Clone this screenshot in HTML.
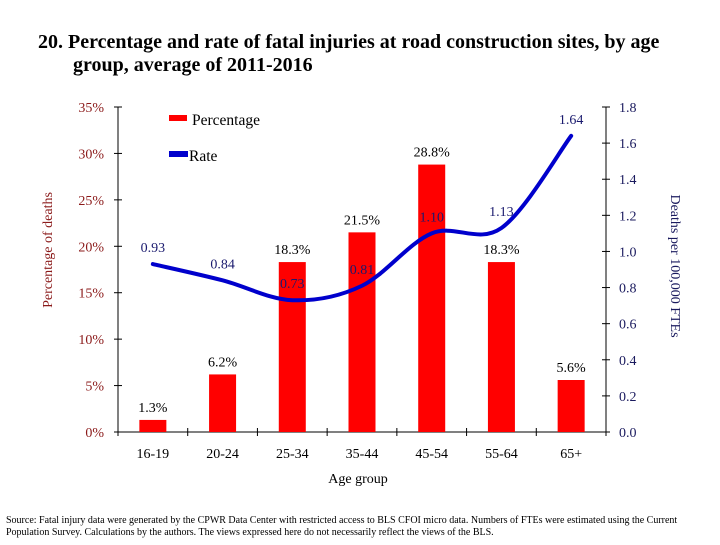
<!DOCTYPE html>
<html><head><meta charset="utf-8"><style>
body{margin:0;background:#fff;}
svg text{font-family:"Liberation Serif",serif;}
</style></head><body>
<svg width="720" height="540" xmlns="http://www.w3.org/2000/svg">
<g id="root"></g>
</svg>
<script>
const categories=["16-19","20-24","25-34","35-44","45-54","55-64","65+"];
const percentValues=[1.3,6.2,18.3,21.5,28.8,18.3,5.6];
const rateValues=[0.93,0.84,0.73,0.81,1.10,1.13,1.64];
const leftTicks=[0,5,10,15,20,25,30,35];
const rightTicks=[0,0.2,0.4,0.6,0.8,1.0,1.2,1.4,1.6,1.8];

const NS="http://www.w3.org/2000/svg";
const root=document.getElementById('root');
const X0=118,X1=606,Y0=432,Y1=107;
const cw=(X1-X0)/categories.length;
const xc=i=>X0+cw*(i+0.5);
const yL=v=>Y0-(v/35)*(Y0-Y1);
const yR=v=>Y0-(v/1.8)*(Y0-Y1);
function el(tag,attrs,text){const e=document.createElementNS(NS,tag);for(const k in attrs)e.setAttribute(k,attrs[k]);if(text!==undefined)e.textContent=text;root.appendChild(e);return e;}

// title
let t=el('text',{x:38,y:48,'font-size':20,'font-weight':'bold',fill:'#000'},'20. Percentage and rate of fatal injuries at road construction sites, by age');

t=el('text',{x:73,y:71,'font-size':20,'font-weight':'bold',fill:'#000'},'group, average of 2011-2016');


// axes
let a=el('line',{x1:X0,y1:Y1,x2:X0,y2:Y0,stroke:'#000','stroke-width':1});

a=el('line',{x1:X1,y1:Y1,x2:X1,y2:Y0,stroke:'#000','stroke-width':1});

a=el('line',{x1:X0,y1:Y0,x2:X1,y2:Y0,stroke:'#000','stroke-width':1});


leftTicks.forEach(v=>{
  const y=yL(v);
  el('line',{x1:X0-4,y1:y,x2:X0+4,y2:y,stroke:'#000'});
  const tx=el('text',{x:104,y:y+5,'font-size':14,fill:'#8b1a1a','text-anchor':'end'},v+'%');
  
});
rightTicks.forEach(v=>{
  const y=yR(v);
  el('line',{x1:X1-4,y1:y,x2:X1+4,y2:y,stroke:'#000'});
  const tx=el('text',{x:619,y:y+5,'font-size':14,fill:'#1a1a5e'},v.toFixed(1));
  
});
for(let i=0;i<=categories.length;i++){el('line',{x1:X0+cw*i,y1:Y0-4,x2:X0+cw*i,y2:Y0+4,stroke:'#000'});}
categories.forEach((c,i)=>{
  const tx=el('text',{x:xc(i),y:458,'font-size':14,fill:'#000','text-anchor':'middle'},c);
  
});

// bars
percentValues.forEach((v,i)=>{
  const b=el('rect',{x:xc(i)-13.5,y:yL(v),width:27,height:Y0-yL(v),fill:'#ff0000'});
  
  const l=el('text',{x:xc(i),y:yL(v)-8,'font-size':14,fill:'#000','text-anchor':'middle'},v.toFixed(1)+'%');
  
});

// smooth line (Catmull-Rom)
const pts=rateValues.map((v,i)=>[xc(i),yR(v)]);
let d='M'+pts[0][0]+','+pts[0][1];
for(let i=0;i<pts.length-1;i++){
  const p0=pts[Math.max(0,i-1)],p1=pts[i],p2=pts[i+1],p3=pts[Math.min(pts.length-1,i+2)];
  const k=1/6;
  d+=' C'+(p1[0]+(p2[0]-p0[0])*k)+','+(p1[1]+(p2[1]-p0[1])*k)+' '+(p2[0]-(p3[0]-p1[0])*k)+','+(p2[1]-(p3[1]-p1[1])*k)+' '+p2[0]+','+p2[1];
}
const ln=el('path',{d:d,fill:'none',stroke:'#0000cc','stroke-width':4,'stroke-linecap':'round'});

rateValues.forEach((v,i)=>{
  const l=el('text',{x:xc(i),y:yR(v)-12,'font-size':14,fill:'#1a1a6e','text-anchor':'middle'},v.toFixed(2));
  
});

// legend
let lg=el('rect',{x:169,y:115,width:18,height:6,fill:'#ff0000'});

lg=el('text',{x:192,y:125,'font-size':15.5,fill:'#000'},'Percentage');

lg=el('rect',{x:169,y:151,width:19,height:6,fill:'#0000cc'});

lg=el('text',{x:189,y:161,'font-size':15.5,fill:'#000'},'Rate');


// axis titles
let at=el('text',{x:0,y:0,'font-size':14,fill:'#8b1a1a','text-anchor':'middle',transform:'translate(52,250) rotate(-90)'},'Percentage of deaths');

at=el('text',{x:0,y:0,'font-size':14,fill:'#1a1a5e','text-anchor':'middle',transform:'translate(671,266) rotate(90)'},'Deaths per 100,000 FTEs');

at=el('text',{x:358,y:483,'font-size':14,fill:'#000','text-anchor':'middle'},'Age group');


// source
let s=el('text',{x:6,y:523,'font-size':10,fill:'#000'},'Source: Fatal injury data were generated by the CPWR Data Center with restricted access to BLS CFOI micro data.  Numbers of FTEs were estimated using the Current');

s=el('text',{x:6,y:535,'font-size':10,fill:'#000'},'Population Survey. Calculations by the authors. The views expressed here do not necessarily reflect the views of the BLS.');

</script>
</body></html>
